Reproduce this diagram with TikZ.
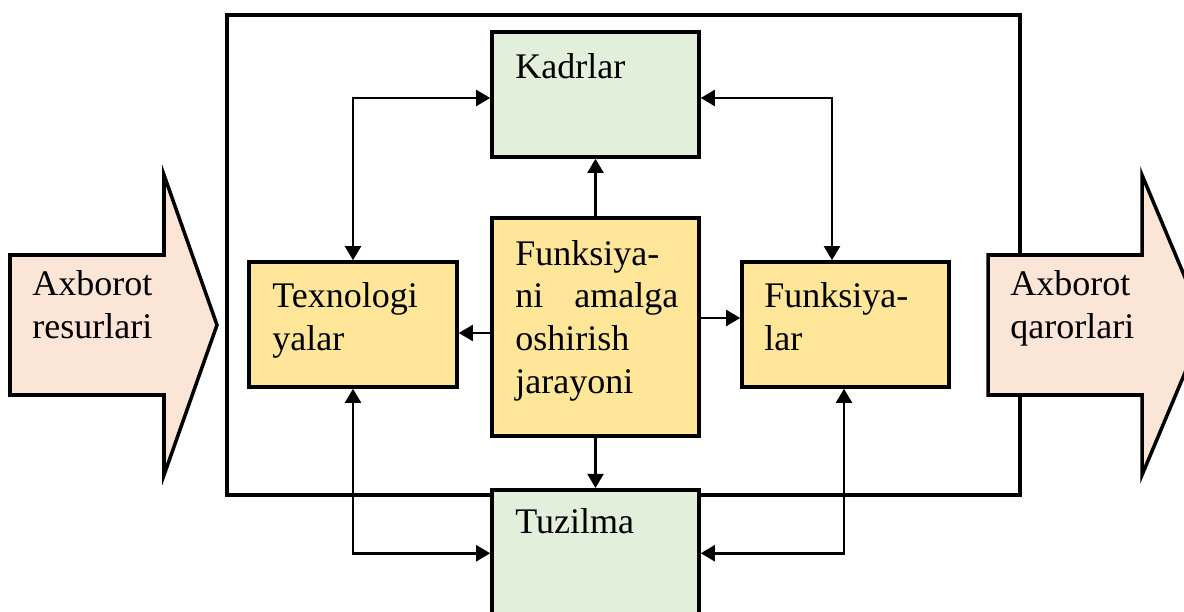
\documentclass[tikz,border=0pt]{standalone}
\usepackage{fontspec}
\setmainfont{Liberation Serif}
\usetikzlibrary{arrows.meta}
\definecolor{boxgreen}{HTML}{E2EFDA}
\definecolor{boxyellow}{HTML}{FFE699}
\definecolor{arrowpeach}{HTML}{FBE5D6}
\tikzset{
  box/.style={draw, line width=2pt, rectangle, inner sep=0pt},
  txt/.style={inner sep=0pt, align=left, font=\fontsize{20.5}{24.4}\selectfont},
  conn/.style={line width=1.5pt, -{Triangle[length=8pt,width=9pt]}},
  biconn/.style={line width=1.5pt, {Triangle[length=8pt,width=9pt]}-{Triangle[length=8pt,width=9pt]}}
}
\begin{document}
\begin{tikzpicture}[x=0.02cm, y=-0.02cm]
        \useasboundingbox[fill=white] (0,0) rectangle (1184,612);

        % outer frame
        \draw[line width=2pt] (227,15) rectangle (1020,495);

        % big input / output arrows
        \draw[line width=2pt, fill=arrowpeach] (10,255) -- (164,255) -- (164,175) -- (217,325)
            -- (164,475) -- (164,395) -- (10,395) -- cycle;
        \draw[line width=2pt, fill=arrowpeach] (988,255) -- (1142,255) -- (1142,175) -- (1205,325)
            -- (1142,475) -- (1142,395) -- (988,395) -- cycle;
        \node[txt, anchor=base west] (inp) at (32,338) {Axborot\\resurlari};
        \node[txt, anchor=base west] (outp) at (1010,338) {Axborot\\qarorlari};

        % boxes
        \node[box, fill=boxgreen, minimum width=4.14cm, minimum height=2.5cm] (kadr) at (595.5,94.5) {};
        \node[box, fill=boxyellow, minimum width=4.14cm, minimum height=4.36cm] (proc) at (595.5,327) {};
        \node[box, fill=boxyellow, minimum width=4.16cm, minimum height=2.5cm] (texn) at (353,324.5) {};
        \node[box, fill=boxyellow, minimum width=4.14cm, minimum height=2.5cm] (funk) at (845.5,324.5) {};
        \node[box, fill=boxgreen, minimum width=4.14cm, minimum height=2.6cm, anchor=north] (tuz) at (595.5,488) {};

        % texts
        \node[txt, anchor=base west] (kadr-t) at (515,78) {Kadrlar};
        \node[txt, anchor=base west, text width=3.26cm, align=left] (proc-t) at (515,265)
            {Funksiya-\\ni\hfill amalga\\oshirish\\jarayoni};
        \node[txt, anchor=base west] (texn-t) at (272,350) {Texnologi\\yalar};
        \node[txt, anchor=base west] (funk-t) at (764,350) {Funksiya-\\lar};
        \node[txt, anchor=base west] (tuz-t) at (515,533) {Tuzilma};

        % connectors from the process
        \draw[conn] (proc.north) -- (kadr.south);
        \draw[conn] (proc.south) -- (tuz.north);
        \draw[conn] ([yshift=-0.12cm]proc.west) coordinate (pw) -- (texn.east |- pw);
        \draw[conn] ([yshift=0.18cm]proc.east) coordinate (pe) -- (funk.west |- pe);

        % two-way links
        \draw[biconn] ([yshift=-0.07cm]kadr.west) -| (texn.north);
        \draw[biconn] ([yshift=-0.07cm]kadr.east) -| ([xshift=-0.27cm]funk.north);
        \draw[biconn] (texn.south) |- ([yshift=0.03cm]tuz.west);
        \draw[biconn] ([xshift=-0.03cm]funk.south) |- ([yshift=0.03cm]tuz.east);
\end{tikzpicture}
\end{document}
